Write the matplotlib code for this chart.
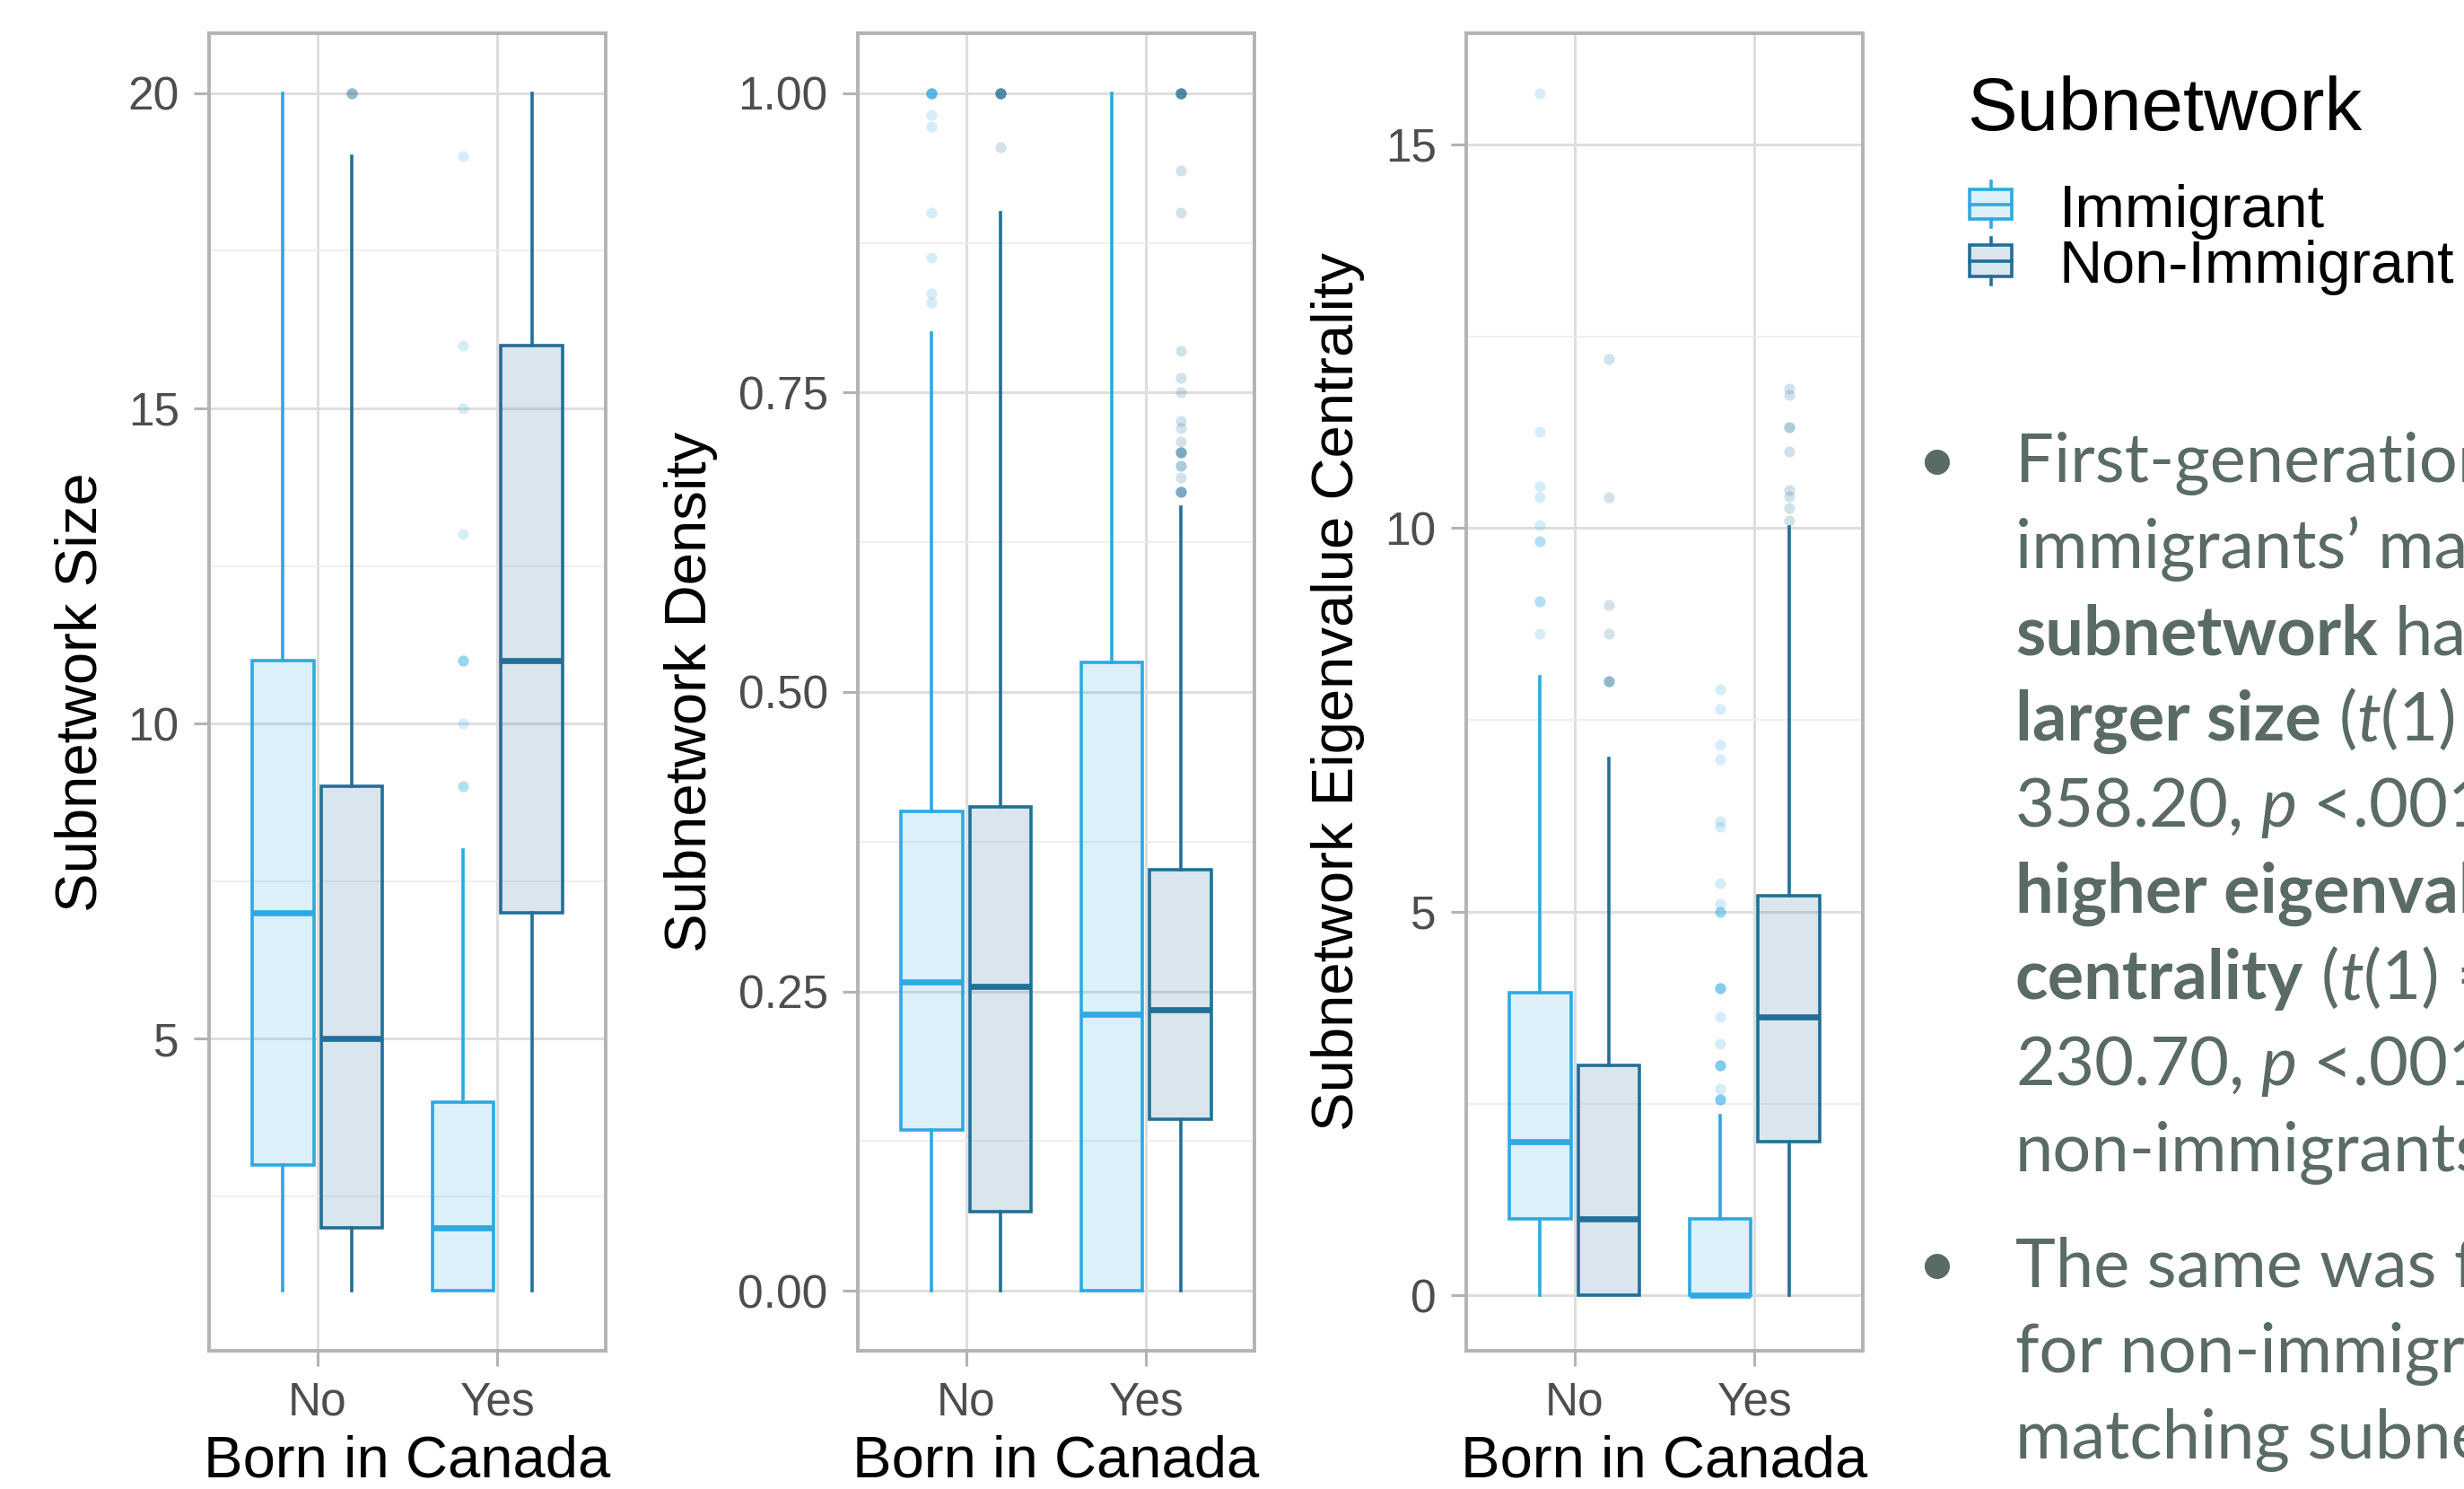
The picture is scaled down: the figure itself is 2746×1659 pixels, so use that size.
import matplotlib

matplotlib.use("Agg")
import matplotlib.pyplot as plt
from matplotlib.colors import to_rgba
from matplotlib.patches import Rectangle
from matplotlib.lines import Line2D
from matplotlib.transforms import IdentityTransform

W, H, DPI = 2746, 1659, 200

# ---- data (five-number summaries: whisker low, Q1, median, Q3, whisker high)
CATEGORIES = ["No", "Yes"]
GROUPS = ["Immigrant", "Non-Immigrant"]

SIZE_IMM = [[1, 3, 7, 11, 20], [1, 1, 2, 4, 8]]
SIZE_NON = [[1, 2, 5, 9, 19], [1, 7, 11, 16, 20]]
SIZE_IMM_OUT = [[], [9, 9, 10, 11, 11, 11, 13, 15, 16, 19]]
SIZE_NON_OUT = [[20, 20, 20], []]

DENS_IMM = [[0, 0.134, 0.258, 0.40, 0.80], [0, 0, 0.231, 0.525, 1.0]]
DENS_NON = [[0, 0.066, 0.254, 0.404, 0.90], [0, 0.143, 0.235, 0.352, 0.654]]
DENS_IMM_OUT = [[0.825, 0.833, 0.863, 0.90, 0.972, 0.982,
                 1.0, 1.0, 1.0, 1.0, 1.0, 1.0, 1.0], []]
DENS_NON_OUT = [[0.955, 1.0, 1.0, 1.0, 1.0, 1.0, 1.0, 1.0],
                [0.667, 0.667, 0.667, 0.667, 0.679, 0.689, 0.689, 0.70, 0.70, 0.70,
                 0.70, 0.709, 0.72, 0.726, 0.75, 0.762, 0.785, 0.90, 0.935,
                 1.0, 1.0, 1.0, 1.0, 1.0, 1.0, 1.0]]

EIG_IMM = [[0, 1.0, 2.0, 3.95, 8.06], [0, 0, 0, 1.0, 2.34]]
EIG_NON = [[0, 0, 1.0, 3.0, 7.0], [0, 2.0, 3.63, 5.21, 10.02]]
EIG_IMM_OUT = [[8.63, 9.05, 9.05, 9.83, 9.83, 10.04, 10.4, 10.54, 11.26, 15.67],
               [2.56, 2.56, 2.56, 2.56, 2.69, 3.0, 3.0, 3.0, 3.0, 3.28, 3.63,
                4.0, 4.0, 4.0, 4.0, 5.0, 5.0, 5.0, 5.1, 5.37, 6.11, 6.18,
                6.99, 7.17, 7.64, 7.9]]
EIG_NON_OUT = [[8.0, 8.0, 8.0, 8.63, 9.0, 10.4, 12.2],
               [10.1, 10.26, 10.42, 10.5, 11.0, 11.32, 11.32, 11.74, 11.82]]

Y_LABELS = ["Subnetwork Size", "Subnetwork Density",
            "Subnetwork Eigenvalue Centrality"]

NOTE_LINES = [
    [("First-generation", "r")],
    [("immigrants\u2019 matching", "r")],
    [("subnetwork", "b"), (" had", "r")],
    [("larger size", "b"), (" (", "r"), ("t", "i"), ("(1) =", "r")],
    [("358.20,", "r"), (" p", "i"), (" <.001) and", "r")],
    [("higher eigenvalue", "b")],
    [("centrality", "b"), (" (", "r"), ("t", "i"), ("(1) =", "r")],
    [("230.70,", "r"), (" p", "i"), (" <.001) than", "r")],
    [("non-immigrants.", "r")],
    [("The same was found", "r")],
    [("for non-immigrants\u2019", "r")],
    [("matching subnetwork", "r")],
]
BULLET_AT = [0, 9]

# ---- style
EDGE = {"Immigrant": "#2ea9e1", "Non-Immigrant": "#226f98"}
FILL_ALPHA = 0.17
BORDER = "#b3b3b3"
TEXT_GREY = "#5a6b67"
SANS = ["Liberation Sans", "DejaVu Sans"]
NOTE_FONT = ["Lato", "DejaVu Sans"]

plt.rcParams["font.family"] = SANS

fig = plt.figure(figsize=(W / DPI, H / DPI), dpi=DPI)


def fx(px):
    return px / W


def fy(py):
    return 1 - py / H


panel_lefts = [233, 956, 1634]
panel_w = 442
top_px, bottom_px = 37, 1505

panels = [
    (SIZE_IMM, SIZE_NON, SIZE_IMM_OUT, SIZE_NON_OUT,
     (0.05, 20.95), [5, 10, 15, 20], [2.5, 7.5, 12.5, 17.5], "%g"),
    (DENS_IMM, DENS_NON, DENS_IMM_OUT, DENS_NON_OUT,
     (-0.05, 1.05), [0, 0.25, 0.5, 0.75, 1.0], [0.125, 0.375, 0.625, 0.875], "%.2f"),
    (EIG_IMM, EIG_NON, EIG_IMM_OUT, EIG_NON_OUT,
     (-0.72, 16.45), [0, 5, 10, 15], [2.5, 7.5, 12.5], "%g"),
]
label_x = [-0.322, -0.42, -0.323]


def to_stats(summary, outliers):
    out = []
    for s, o in zip(summary, outliers):
        out.append({"whislo": s[0], "q1": s[1], "med": s[2], "q3": s[3],
                    "whishi": s[4], "fliers": o})
    return out


for i, (imm, non, imm_out, non_out, ylim, yt, ymt, fmt) in enumerate(panels):
    ax = fig.add_axes([fx(panel_lefts[i]), fy(bottom_px),
                       fx(panel_w), (bottom_px - top_px) / H])
    for g, (summ, outl, off) in zip(GROUPS, [(imm, imm_out, -0.19),
                                              (non, non_out, 0.19)]):
        c = EDGE[g]
        pos = [k + 1 + off for k in range(len(CATEGORIES))]
        ax.bxp(to_stats(summ, outl), positions=pos, widths=0.34,
               patch_artist=True, showcaps=False, manage_ticks=False,
               boxprops=dict(facecolor=to_rgba(c, FILL_ALPHA), edgecolor=c,
                             linewidth=1.3),
               whiskerprops=dict(color=c, linewidth=1.3),
               medianprops=dict(color=c, linewidth=2.4, solid_capstyle="butt"),
               flierprops=dict(marker="o", markersize=4.4, markerfacecolor=c,
                               markeredgecolor="none", alpha=0.2))
    ax.set_xlim(0.4, 2.6)
    ax.set_ylim(*ylim)
    ax.set_xticks([1, 2], CATEGORIES)
    ax.set_yticks(yt, [fmt % v for v in yt])
    ax.set_yticks(ymt, minor=True)
    ax.grid(True, which="major", color="#dedede", linewidth=1.1, zorder=0)
    ax.grid(True, which="minor", axis="y", color="#ececec", linewidth=0.6, zorder=0)
    ax.set_axisbelow(True)
    for sp in ax.spines.values():
        sp.set_color(BORDER)
        sp.set_linewidth(1.4)
    ax.tick_params(which="major", length=6, width=1.1, color=BORDER,
                   labelcolor="#4d4d4d", labelsize=18.5, pad=6)
    ax.tick_params(which="minor", length=0)
    ax.set_xlabel("Born in Canada", fontsize=23.5, labelpad=4)
    ax.set_ylabel(Y_LABELS[i], fontsize=23.5, va="center")
    ax.yaxis.set_label_coords(label_x[i], 0.5)

# ---- legend
fig.text(fx(2192), fy(145), "Subnetwork", fontsize=30, ha="left", va="baseline")
key_rows = [(202, 211, 244, 253, 253), (265, 273, 308, 317, 315)]
for g, (w_top, b_top, b_bot, w_bot, base) in zip(GROUPS, key_rows):
    c = EDGE[g]
    x0, x1 = 2195, 2242
    xm = (x0 + x1) / 2
    fig.add_artist(Rectangle((fx(x0), fy(b_bot)), fx(x1 - x0), (b_bot - b_top) / H,
                             transform=fig.transFigure,
                             facecolor=to_rgba(c, FILL_ALPHA), edgecolor=c,
                             linewidth=1.3))
    ym = (b_top + b_bot) / 2
    fig.add_artist(Line2D([fx(x0), fx(x1)], [fy(ym), fy(ym)],
                          transform=fig.transFigure, color=c, linewidth=1.3))
    fig.add_artist(Line2D([fx(xm), fx(xm)], [fy(w_top), fy(b_top)],
                          transform=fig.transFigure, color=c, linewidth=1.3))
    fig.add_artist(Line2D([fx(xm), fx(xm)], [fy(b_bot), fy(w_bot)],
                          transform=fig.transFigure, color=c, linewidth=1.3))
    fig.text(fx(2295), fy(base), g, fontsize=24, ha="left", va="baseline")

# ---- bullet notes (run off the right edge, as in the source slide)
renderer = fig.canvas.get_renderer()
note_size = 27.3
kinds = {"r": dict(fontweight="normal", fontstyle="normal"),
         "b": dict(fontweight="bold", fontstyle="normal"),
         "i": dict(fontweight="normal", fontstyle="italic")}


def text_width(s, kind):
    t = fig.text(0, 0, s, fontsize=note_size, family=NOTE_FONT, **kinds[kind])
    w = t.get_window_extent(renderer).width
    t.remove()
    return w


space_w = {k: text_width("n n", k) - text_width("nn", k) for k in kinds}

y = 537
for li, line in enumerate(NOTE_LINES):
    if li in BULLET_AT:
        if li > 0:
            y += 32
        fig.text(2158, H - y, "\u2022", transform=IdentityTransform(),
                 fontsize=note_size, family=NOTE_FONT, color=TEXT_GREY,
                 ha="center", va="baseline")
    x = 2246
    for seg, kind in line:
        if seg.startswith(" "):
            x += space_w[kind]
            seg = seg[1:]
        t = fig.text(x, H - y, seg, transform=IdentityTransform(),
                     fontsize=note_size, family=NOTE_FONT, color=TEXT_GREY,
                     ha="left", va="baseline", **kinds[kind])
        x += t.get_window_extent(renderer).width
    y += 96

fig.savefig("out.png", dpi=DPI)
